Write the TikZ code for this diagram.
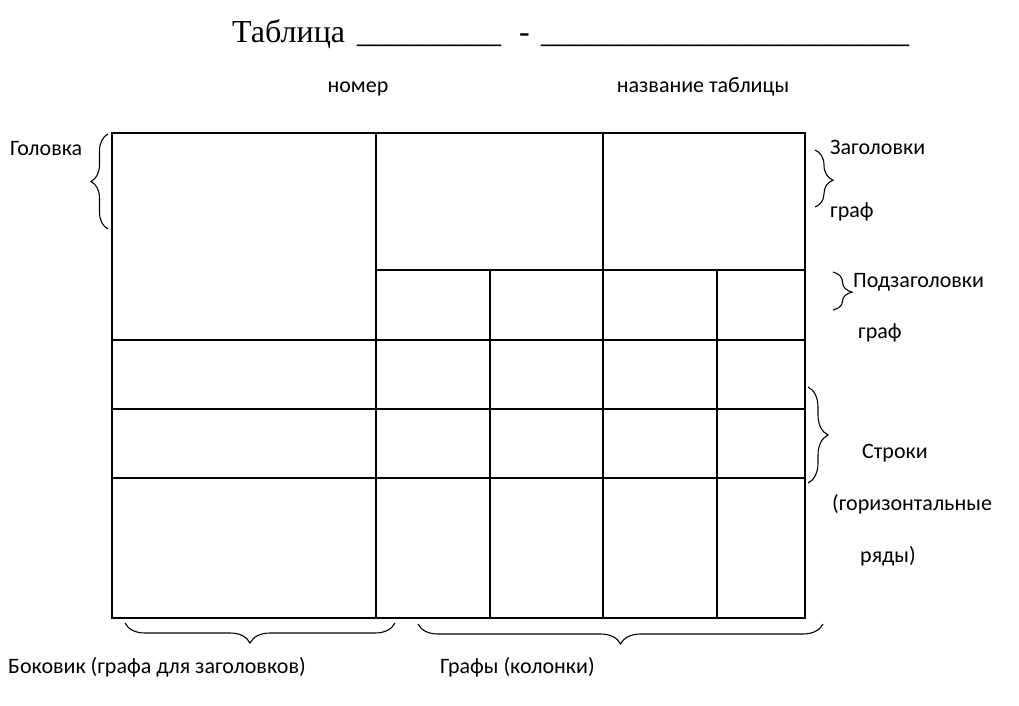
\documentclass[tikz,border=0pt]{standalone}
\usepackage{fontspec}
\setmainfont{Carlito}
\newfontfamily\titlefont{Liberation Serif}
\usetikzlibrary{decorations.pathreplacing}
\begin{document}
\begin{tikzpicture}[x=1pt,y=-1pt,
  gridline/.style={line width=2.2pt, line cap=rect},
  brc/.style 2 args={decorate, decoration={brace, amplitude=#1, aspect=#2}, line width=1.1pt},
  lbl/.style={font=\fontsize{22}{26}\selectfont, inner sep=0pt, anchor=base west},
  ttl/.style={font=\titlefont\fontsize{32}{38}\selectfont, inner sep=0pt, anchor=base west}]
\useasboundingbox (0,0) rectangle (1019,706);
% title
\node[ttl] (t1) at (232,43) {Таблица};
\node[ttl] (t2) at (357,43) {\_\_\_\_\_\_\_\_\_};
\node[ttl] (t3) at (519,43) {-};
\node[ttl] (t4) at (541,43) {\_\_\_\_\_\_\_\_\_\_\_\_\_\_\_\_\_\_\_\_\_\_\_};
\node[lbl, anchor=base] (nomer) at (358,93) {номер};
\node[lbl, anchor=base] (nazv) at (703,93) {название таблицы};
% table
\coordinate (A) at (112,133);
\coordinate (B) at (805,618);
\draw[gridline] (A) rectangle (B);
\draw[gridline] (376,133) -- (376,618);
\draw[gridline] (603,133) -- (603,618);
\draw[gridline] (490,270) -- (490,618);
\draw[gridline] (717,270) -- (717,618);
\draw[gridline] (376,270) -- (805,270);
\draw[gridline] (112,340) -- (805,340);
\draw[gridline] (112,409) -- (805,409);
\draw[gridline] (112,478) -- (805,478);
% braces
\coordinate (g1) at (108,229); \coordinate (g2) at (108,134);
\draw[brc={17pt}{0.5}] (g1) -- (g2);
\coordinate (z1) at (815,150); \coordinate (z2) at (815,207);
\draw[brc={18pt}{0.53}] (z1) -- (z2);
\coordinate (p1) at (833,272); \coordinate (p2) at (833,310);
\draw[brc={19pt}{0.53}] (p1) -- (p2);
\coordinate (s1) at (808,387); \coordinate (s2) at (808,483);
\draw[brc={20pt}{0.5}] (s1) -- (s2);
\coordinate (b1) at (395,623); \coordinate (b2) at (125,623);
\draw[brc={20pt}{0.537}] (b1) -- (b2);
\coordinate (c1) at (823,624); \coordinate (c2) at (418,624);
\draw[brc={20pt}{0.5}] (c1) -- (c2);
% labels
\node[lbl] (golovka) at (10,155) {Головка};
\node[lbl] (zag) at (830,154) {Заголовки};
\node[lbl] (graf1) at (830,217) {граф};
\node[lbl] (podzag) at (853,287) {Подзаголовки};
\node[lbl] (graf2) at (858,338) {граф};
\node[lbl] (stroki) at (862,458) {Строки};
\node[lbl] (gor) at (832,510) {(горизонтальные};
\node[lbl] (ryady) at (860,562) {ряды)};
\node[lbl] (bokovik) at (8,673) {Боковик (графа для заголовков)};
\node[lbl] (grafy) at (440,673) {Графы (колонки)};
\end{tikzpicture}
\end{document}
